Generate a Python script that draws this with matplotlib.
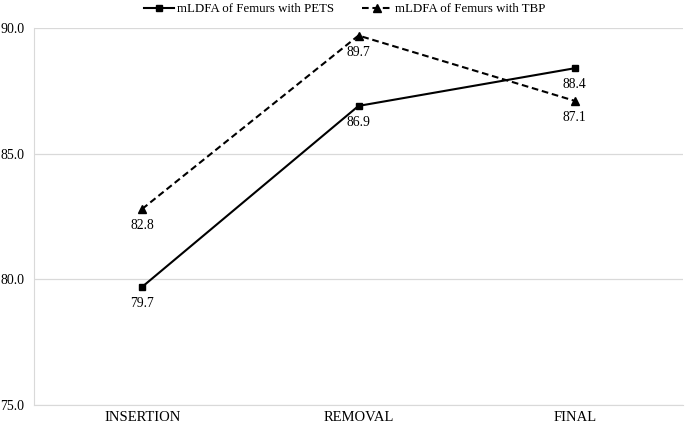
import matplotlib
matplotlib.use("Agg")
import matplotlib.pyplot as plt

categories = ["INSERTION", "REMOVAL", "FINAL"]
pets = [79.7, 86.9, 88.4]
tbp = [82.8, 89.7, 87.1]
yticks = [75.0, 80.0, 85.0, 90.0]

plt.rcParams['font.family'] = ['Liberation Serif', 'DejaVu Serif']

fig = plt.figure(figsize=(6.85, 4.25), dpi=100)
ax = fig.add_axes([34/685, 20/425, (683-34)/685, (405-28)/425])

x = list(range(len(categories)))
ax.plot(x, pets, color='black', lw=1.5, marker='s', ms=5, label='mLDFA of Femurs with PETS')
ax.plot(x, tbp, color='black', lw=1.5, ls=(0, (3.2, 1.8)), marker='^', ms=5.5, label='mLDFA of Femurs with TBP')

for xi, v in zip(x, pets):
    ax.annotate(f"{v:.1f}", (xi, v), xytext=(0, -12), textcoords='offset points',
                ha='center', va='center', fontsize=9.8)
for xi, v in zip(x, tbp):
    ax.annotate(f"{v:.1f}", (xi, v), xytext=(0, -12), textcoords='offset points',
                ha='center', va='center', fontsize=9.8)

ax.set_xlim(-0.5, 2.5)
ax.set_ylim(75, 90)
ax.set_yticks(yticks)
ax.set_yticklabels([f"{t:.1f}" for t in yticks], fontsize=10)
ax.set_xticks(x)
ax.set_xticklabels(categories, fontsize=10.5)
ax.grid(axis='y', color='#d9d9d9', lw=0.9)
ax.set_axisbelow(True)
for s in ['top', 'right']:
    ax.spines[s].set_visible(False)
ax.spines['left'].set_color('#d9d9d9')
ax.spines['bottom'].set_color('#d9d9d9')
ax.tick_params(axis='x', length=0, pad=4)
ax.tick_params(axis='y', length=0, pad=7)

fig.legend(loc='upper center', bbox_to_anchor=(0.503, 1.02), ncol=2, frameon=False,
           fontsize=9.3, handlelength=2.3, handletextpad=0.25, columnspacing=2.15)

fig.savefig("out.png", dpi=100)
